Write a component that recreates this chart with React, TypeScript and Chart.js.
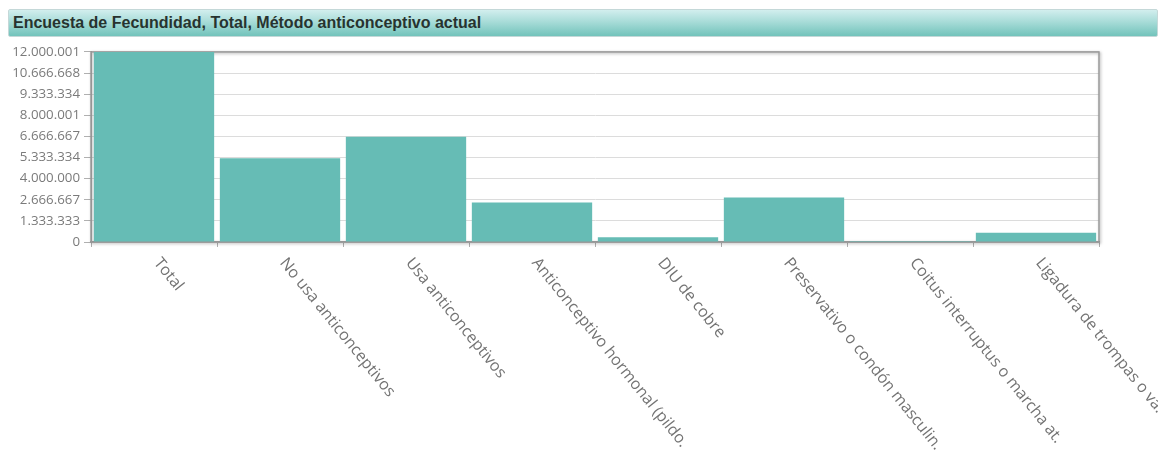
import React, { useEffect, useRef } from "react";
import { Chart, registerables } from "chart.js";

Chart.register(...registerables);

const TITLE = "Encuesta de Fecundidad, Total, Método anticonceptivo actual";

const CATEGORIES = [
  "Total",
  "No usa anticonceptivos",
  "Usa anticonceptivos",
  "Anticonceptivo hormonal (pildo.",
  "DIU de cobre",
  "Preservativo o condón masculin.",
  "Coitus interruptus o marcha at.",
  "Ligadura de trompas o va.",
];

const VALUES = [12000000, 5290000, 6650000, 2500000, 300000, 2810000, 60000, 580000];

const Y_TICK_VALUES = [
  0, 1333333, 2666667, 4000000, 5333334, 6666667, 8000001, 9333334, 10666668, 12000001,
];

const BAR_COLOR = "#66bcb5";
const TEXT_COLOR = "#737373";

const formatThousands = (v: number) =>
  String(Math.round(v)).replace(/\B(?=(\d{3})+(?!\d))/g, ".");

// Frame around the plot area with a soft shadow on the top and right edges
const framePlugin = {
  id: "frame",
  beforeDatasetsDraw(chart: any) {
    const { ctx, chartArea: a } = chart;
    ctx.save();
    ctx.shadowColor = "rgba(0,0,0,0.35)";
    ctx.shadowBlur = 3;
    ctx.shadowOffsetX = 1;
    ctx.shadowOffsetY = 1;
    ctx.strokeStyle = "#9a9a9a";
    ctx.lineWidth = 1.5;
    ctx.strokeRect(a.left, a.top, a.right - a.left, a.bottom - a.top);
    ctx.restore();
  },
};

// Category labels slanted downwards to the right, starting under each bar
const slantedLabels = {
  id: "slantedLabels",
  afterDraw(chart: any) {
    const { ctx, chartArea } = chart;
    const xScale = chart.scales.x;
    ctx.save();
    ctx.font = "16px 'Open Sans'";
    ctx.fillStyle = TEXT_COLOR;
    ctx.textAlign = "left";
    ctx.textBaseline = "top";
    CATEGORIES.forEach((label, i) => {
      const x = xScale.getPixelForTick(i);
      ctx.save();
      ctx.translate(x + 9, chartArea.bottom + 13);
      ctx.rotate((51 * Math.PI) / 180);
      ctx.fillText(label, 0, 0);
      ctx.restore();
    });
    ctx.restore();
  },
};

export default function App() {
  const canvasRef = useRef<HTMLCanvasElement | null>(null);

  useEffect(() => {
    const canvas = canvasRef.current;
    if (!canvas) return;
    const chart = new Chart(canvas, {
      type: "bar",
      data: {
        labels: CATEGORIES,
        datasets: [
          {
            data: VALUES,
            backgroundColor: BAR_COLOR,
            borderWidth: 0,
            categoryPercentage: 1,
            barPercentage: 0.955,
          },
        ],
      },
      options: {
        responsive: false,
        animation: false,
        layout: { padding: { top: 11, right: 59, left: 0, bottom: 0 } },
        plugins: {
          legend: { display: false },
          tooltip: { enabled: false },
        },
        scales: {
          x: {
            offset: true,
            grid: {
              offset: true,
              drawOnChartArea: false,
              drawTicks: true,
              tickLength: 5,
              color: "#b0b0b0",
            },
            border: { display: true, color: "#9a9a9a", width: 1.5 },
            ticks: { display: false },
            afterFit(scale: any) {
              scale.height = 213;
            },
          },
          y: {
            min: 0,
            max: Y_TICK_VALUES[Y_TICK_VALUES.length - 1],
            afterBuildTicks(scale: any) {
              scale.ticks = Y_TICK_VALUES.map((v) => ({ value: v }));
            },
            grid: {
              color: "#dcdcdc",
              lineWidth: 1,
              drawTicks: true,
              tickLength: 7,
              tickColor: "#b0b0b0",
            },
            border: { display: true, color: "#9a9a9a" },
            ticks: {
              color: "#7a7a7a",
              padding: 4,
              font: { family: "'Open Sans'", size: 13.3 },
              callback: (v: any) => formatThousands(Number(v)),
            },
            afterFit(scale: any) {
              scale.width = 83;
            },
          },
        },
      },
      plugins: [framePlugin, slantedLabels],
    });
    return () => chart.destroy();
  }, []);

  return (
    <div style={{ width: 1150, fontFamily: "'Liberation Sans', Arial, sans-serif" }}>
      <div
        style={{
          marginTop: 1,
          height: 28,
          boxSizing: "border-box",
          border: "1px solid #c4d8d8",
          borderRadius: 2,
          background: "linear-gradient(to bottom, #d2eeee 0%, #a8dcd8 45%, #72c3bb 100%)",
          color: "#27332f",
          fontWeight: "bold",
          fontSize: 16,
          lineHeight: "26px",
          paddingLeft: 4,
          whiteSpace: "nowrap",
        }}
      >
        {TITLE}
      </div>
      <canvas ref={canvasRef} width={1150} height={415} style={{ display: "block", marginTop: 3 }} />
    </div>
  );
}
